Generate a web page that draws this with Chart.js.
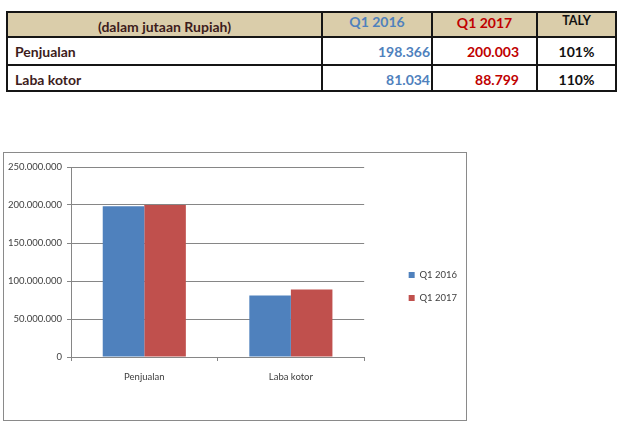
<!DOCTYPE html>
<html>
<head>
<meta charset="utf-8">
<script src="https://cdn.jsdelivr.net/npm/chart.js@4"></script>
<style>
  html, body { margin: 0; padding: 0; background: #ffffff; }
  body { width: 620px; height: 434px; position: relative; overflow: hidden; font-family: Lato, "Open Sans", sans-serif; }
  #tbl { position: absolute; left: 6px; top: 11px; width: 611px; height: 81px; border: 2px solid #151515; box-sizing: border-box; }
  #tbl .hdr { position: absolute; left: 0; top: 0; width: 607px; height: 23px; background: #dacdaa; }
  #tbl .vl { position: absolute; top: 0; width: 2px; height: 77px; background: #151515; }
  #tbl .hl { position: absolute; left: 0; height: 2px; width: 607px; background: #151515; }
  #tbl .cell { position: absolute; font-weight: bold; font-size: 14px; white-space: nowrap; line-height: 16px; }
  #frame { position: absolute; left: 3px; top: 152px; width: 464px; height: 269px; border: 1px solid #8a8a8a; box-sizing: border-box; }
  #frame canvas { position: absolute; left: 0; top: 0; }
</style>
</head>
<body>
<div id="tbl"></div>
<div id="frame"><canvas id="c" width="462" height="267"></canvas></div>
<script>
// ---- data ----
const tableHeader = ['(dalam jutaan Rupiah)', 'Q1 2016', 'Q1 2017', 'TALY'];
const categories = ['Penjualan', 'Laba kotor'];
const seriesNames = ['Q1 2016', 'Q1 2017'];
const q1_2016 = [198366000, 81034000];
const q1_2017 = [200003000, 88799000];
const taly = ['101%', '110%'];
const yTickMin = 0;
const yTickMax = 250000000;
const yTickStep = 50000000;

// ---- helpers ----
function dotThousands(v) {
  return String(Math.round(v)).replace(/\B(?=(\d{3})+(?!\d))/g, '.');
}
function millions(v) {
  return (v / 1e6).toFixed(3);
}

// ---- table (HTML) ----
const tbl = document.getElementById('tbl');
const ox = 8, oy = 13; // page origin of inner box
function el(cls, css, text) {
  const d = document.createElement('div');
  d.className = cls;
  Object.assign(d.style, css);
  if (text !== undefined) d.textContent = text;
  tbl.appendChild(d);
  return d;
}
el('hdr', {});
[321, 431, 536].forEach(x => el('vl', { left: (x - ox) + 'px' }));
[36, 64].forEach(y => el('hl', { top: (y - oy) + 'px' }));

const brown = '#3d1c1c', blue = '#4f81bd', red = '#c00000', black = '#111111';
// header
el('cell', { left: '0px', width: (321 - ox) + 'px', textAlign: 'center', top: '6px', color: brown }, tableHeader[0]);
el('cell', { left: (323 - ox) + 'px', width: '108px', textAlign: 'center', top: '1px', color: blue }, tableHeader[1]);
el('cell', { left: (433 - ox) + 'px', width: '103px', textAlign: 'center', top: '2px', color: red }, tableHeader[2]);
el('cell', { left: (538 - ox) + 'px', width: '77px', textAlign: 'center', top: '0px', color: black, fontSize: '12.5px' }, tableHeader[3]);
// rows
const rowTops = [38, 66];
categories.forEach((cat, i) => {
  const t = rowTops[i] - oy + 6;
  el('cell', { left: (15 - ox) + 'px', top: t + 'px', color: brown }, cat);
  el('cell', { left: (323 - ox) + 'px', width: '107px', textAlign: 'right', top: t + 'px', color: blue }, millions(q1_2016[i]));
  el('cell', { left: (433 - ox) + 'px', width: '86px', textAlign: 'right', top: t + 'px', color: red }, millions(q1_2017[i]));
  el('cell', { left: (538 - ox) + 'px', width: '77px', textAlign: 'center', top: t + 'px', color: black }, taly[i]);
});

// ---- chart ----
const gridCol = '#868686';
const txtCol = '#404040';
const fnt = { family: 'Lato, "Open Sans", sans-serif', size: 9.5 };

new Chart(document.getElementById('c'), {
  type: 'bar',
  data: {
    labels: categories,
    datasets: [
      { label: seriesNames[0], data: q1_2016, backgroundColor: '#4f81bd', borderWidth: 0 },
      { label: seriesNames[1], data: q1_2017, backgroundColor: '#c0504d', borderWidth: 0 }
    ]
  },
  options: {
    responsive: false,
    animation: false,
    devicePixelRatio: 1,
    categoryPercentage: 0.567,
    barPercentage: 1.0,
    layout: { padding: { left: 4, top: 14, right: -1, bottom: 14 } },
    plugins: {
      tooltip: { enabled: false },
      legend: {
        position: 'right',
        align: 'center',
        labels: { boxWidth: 6, boxHeight: 6, padding: 13.5, font: fnt, color: txtCol }
      }
    },
    scales: {
      x: {
        grid: { display: true, drawOnChartArea: false, drawTicks: true, tickLength: 4, color: gridCol, offset: true },
        border: { display: true, color: gridCol },
        ticks: { font: fnt, color: txtCol, padding: 10, maxRotation: 0 },
        afterFit: s => { s.height = 49; }
      },
      y: {
        position: 'left',
        min: yTickMin,
        max: yTickMax,
        grid: { color: gridCol, tickLength: 4, drawTicks: true },
        border: { display: true, color: gridCol },
        ticks: { stepSize: yTickStep, font: fnt, color: txtCol, padding: 5, callback: v => dotThousands(v) },
        afterFit: s => { s.width = 63; }
      },
      yRightSpacer: {
        type: 'linear',
        position: 'right',
        display: true,
        grid: { display: false, drawTicks: false },
        border: { display: false },
        ticks: { display: false },
        afterFit: s => { s.width = 31; }
      }
    }
  }
});
</script>
</body>
</html>
